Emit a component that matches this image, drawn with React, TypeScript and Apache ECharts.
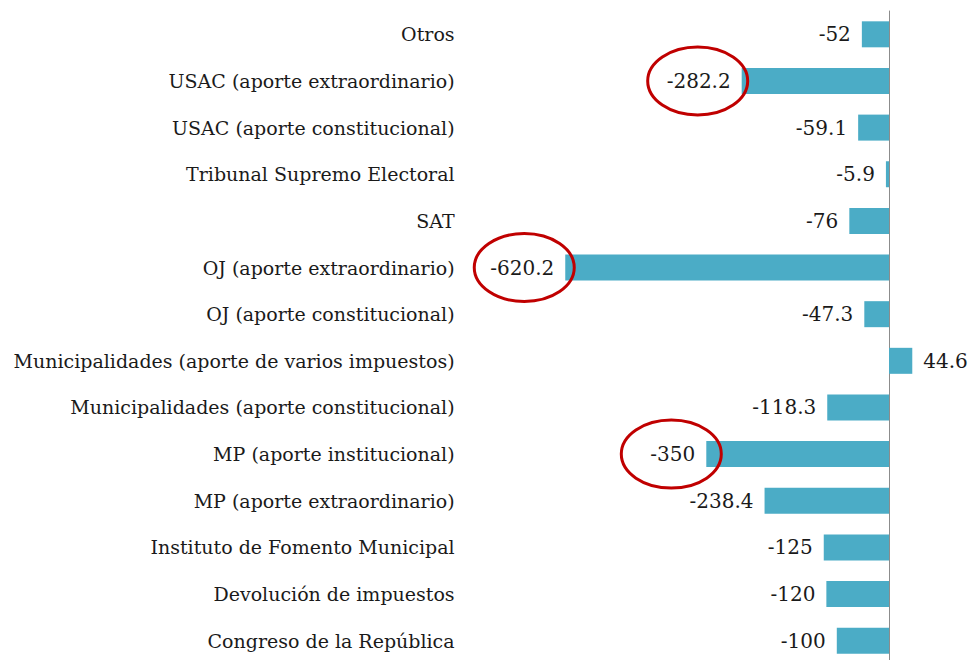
import React, { useEffect, useRef } from "react";
import * as echarts from "echarts";

const categories = [
  "Congreso de la República",
  "Devolución de impuestos",
  "Instituto de Fomento Municipal",
  "MP (aporte extraordinario)",
  "MP (aporte institucional)",
  "Municipalidades (aporte constitucional)",
  "Municipalidades (aporte de varios impuestos)",
  "OJ (aporte constitucional)",
  "OJ (aporte extraordinario)",
  "SAT",
  "Tribunal Supremo Electoral",
  "USAC (aporte constitucional)",
  "USAC (aporte extraordinario)",
  "Otros",
];

const values = [-100, -120, -125, -238.4, -350, -118.3, 44.6, -47.3, -620.2, -76, -5.9, -59.1, -282.2, -52];

const highlighted = ["USAC (aporte extraordinario)", "OJ (aporte extraordinario)", "MP (aporte institucional)"];

const FONT = "DejaVu Serif";

export default function App() {
  const ref = useRef<HTMLDivElement>(null);
  useEffect(() => {
    document.body.style.margin = "0";
    const chart = echarts.init(ref.current!, null, { renderer: "svg" });
    const data = values.map((v) => ({
      value: v,
      label: { position: v >= 0 ? "right" : "left" },
    }));
    chart.setOption({
      animation: false,
      grid: {
        left: 523.6,
        width: 417.6,
        top: 11,
        height: 653,
        containLabel: false,
        outerBoundsMode: "none",
      },
      xAxis: {
        type: "value",
        min: -700,
        max: 100,
        show: false,
        splitLine: { show: false },
      },
      yAxis: {
        type: "category",
        data: categories,
        axisLine: { show: true, onZero: true, lineStyle: { color: "#8c8c8c", width: 1 } },
        axisTick: { show: false },
        axisLabel: {
          margin: 69,
          color: "#1a1a1a",
          fontFamily: FONT,
          fontSize: 19,
        },
      },
      series: [
        {
          type: "bar",
          data,
          barWidth: 26,
          itemStyle: { color: "#4bacc6" },
          label: {
            show: true,
            distance: 11,
            color: "#1a1a1a",
            fontFamily: FONT,
            fontSize: 20,
          },
        },
      ],
    });
    const offsets = [44, 41, 35];
    const graphics = highlighted.map((c, k) => {
      const i = categories.indexOf(c);
      const [px, py] = chart.convertToPixel({ gridIndex: 0 }, [values[i], c]) as number[];
      return {
        type: "ellipse",
        shape: { cx: px - offsets[k], cy: py, rx: 50, ry: 34 },
        style: { fill: "none", stroke: "#c00000", lineWidth: 3 },
        z: 100,
      };
    });
    chart.setOption({ graphic: graphics });
    return () => chart.dispose();
  }, []);
  return <div ref={ref} style={{ width: 974, height: 660 }} />;
}
